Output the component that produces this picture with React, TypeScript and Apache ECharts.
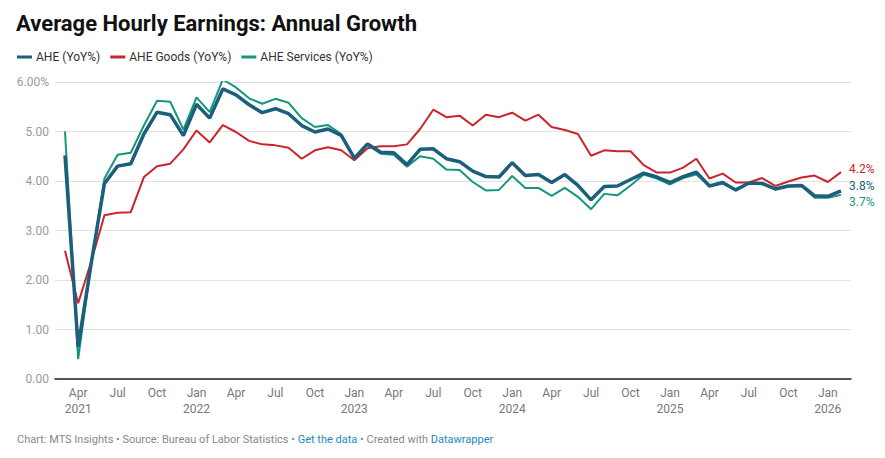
import React, { useEffect, useRef } from "react";
import * as echarts from "echarts";

// Months: index 0 = Mar 2021 ... index 59 = Feb 2026
const tickIndices = [1, 4, 7, 10, 13, 16, 19, 22, 25, 28, 31, 34, 37, 40, 43, 46, 49, 52, 55, 58];
const tickLabels = [
  "Apr\n2021", "Jul", "Oct", "Jan\n2022", "Apr", "Jul", "Oct", "Jan\n2023", "Apr", "Jul",
  "Oct", "Jan\n2024", "Apr", "Jul", "Oct", "Jan\n2025", "Apr", "Jul", "Oct", "Jan\n2026",
];

const ahe = [
  4.52, 0.65, 2.35, 3.95, 4.30, 4.35, 4.95, 5.39, 5.34, 4.92,
  5.55, 5.27, 5.86, 5.74, 5.54, 5.38, 5.46, 5.36, 5.12, 4.99,
  5.05, 4.92, 4.46, 4.75, 4.58, 4.57, 4.33, 4.64, 4.65, 4.45,
  4.39, 4.20, 4.09, 4.08, 4.37, 4.11, 4.13, 3.97, 4.13, 3.91,
  3.62, 3.89, 3.90, 4.03, 4.16, 4.08, 3.97, 4.09, 4.18, 3.90,
  3.97, 3.82, 3.96, 3.95, 3.84, 3.90, 3.91, 3.70, 3.69, 3.80,
];
const goods = [
  2.59, 1.53, 2.38, 3.31, 3.36, 3.37, 4.08, 4.30, 4.35, 4.64,
  5.02, 4.78, 5.13, 4.99, 4.81, 4.74, 4.72, 4.67, 4.45, 4.62,
  4.68, 4.62, 4.42, 4.66, 4.70, 4.70, 4.74, 5.05, 5.44, 5.29,
  5.32, 5.12, 5.34, 5.29, 5.38, 5.22, 5.34, 5.09, 5.03, 4.95,
  4.51, 4.62, 4.60, 4.60, 4.32, 4.17, 4.17, 4.27, 4.45, 4.05,
  4.15, 3.97, 3.97, 4.06, 3.90, 3.99, 4.07, 4.11, 3.98, 4.18,
];
const services = [
  5.00, 0.40, 2.35, 4.05, 4.53, 4.57, 5.12, 5.62, 5.60, 5.04,
  5.69, 5.39, 6.05, 5.89, 5.67, 5.56, 5.66, 5.58, 5.27, 5.09,
  5.13, 4.95, 4.46, 4.73, 4.55, 4.53, 4.29, 4.50, 4.45, 4.23,
  4.22, 3.98, 3.81, 3.82, 4.10, 3.86, 3.86, 3.70, 3.86, 3.68,
  3.43, 3.74, 3.71, 3.91, 4.13, 4.05, 3.93, 4.06, 4.13, 3.90,
  3.95, 3.81, 3.95, 3.94, 3.83, 3.89, 3.90, 3.66, 3.66, 3.72,
];

const C_AHE = "#1b5f7c";
const C_GOODS = "#c9252b";
const C_SERV = "#16977b";
const FONT = "Roboto";

const toPairs = (arr: number[]) => arr.map((v, i) => [i, v]);

export default function App() {
  const ref = useRef<HTMLDivElement>(null);
  useEffect(() => {
    if (!ref.current) return;
    const chart = echarts.init(ref.current, null, { renderer: "svg" });
    const endLabel = (color: string, dy: number) => ({
      show: true,
      color,
      fontFamily: FONT,
      fontSize: 12,
      distance: 8,
      offset: [0, dy],
      formatter: (p: any) => p.value[1].toFixed(1) + "%",
    });
    chart.setOption({
      animation: false,
      textStyle: { fontFamily: FONT },
      title: {
        text: "Average Hourly Earnings: Annual Growth",
        left: 16,
        top: 12,
        padding: 0,
        textStyle: { fontFamily: FONT, fontSize: 22, fontWeight: "bold", color: "#111" },
      },
      legend: {
        left: 17,
        top: 51,
        padding: 0,
        itemWidth: 15,
        itemHeight: 3,
        itemGap: 10,
        icon: "rect",
        textStyle: { fontFamily: FONT, fontSize: 12, color: "#333", padding: [0, 0, 0, -1] },
        data: ["AHE (YoY%)", "AHE Goods (YoY%)", "AHE Services (YoY%)"],
      },
      grid: { left: 55, right: 34, top: 82, bottom: 79, containLabel: false },
      xAxis: {
        type: "value",
        min: -0.76,
        max: 59.76,
        splitLine: { show: false },
        axisTick: { show: false },
        axisLine: { show: true, onZero: true, lineStyle: { color: "#222", width: 1.5 } },
        axisLabel: {
          customValues: tickIndices,
          formatter: (v: number) => tickLabels[tickIndices.indexOf(Math.round(v))] ?? "",
          color: "#777",
          fontFamily: FONT,
          fontSize: 12,
          lineHeight: 16,
          margin: 6,
        },
      },
      yAxis: {
        type: "value",
        min: 0,
        max: 6,
        interval: 1,
        axisLine: { show: false },
        axisTick: { show: false },
        splitLine: { lineStyle: { color: "#e2e2e2", width: 1 } },
        axisLabel: {
          formatter: (v: number) => (v === 6 ? "6.00%" : v.toFixed(2)),
          color: "#9a9a9a",
          fontFamily: FONT,
          fontSize: 12,
          margin: 6,
        },
      },
      graphic: [
        {
          type: "text",
          left: 17,
          top: 434,
          style: {
            text: "{g|Chart: MTS Insights • Source: Bureau of Labor Statistics • }{b|Get the data}{g| • Created with }{b|Datawrapper}",
            rich: {
              g: { fill: "#888", fontFamily: FONT, fontSize: 11 },
              b: { fill: "#1a8ac6", fontFamily: FONT, fontSize: 11 },
            },
          },
        },
      ],
      series: [
        {
          name: "AHE Goods (YoY%)",
          type: "line",
          data: toPairs(goods),
          symbol: "none",
          lineStyle: { color: C_GOODS, width: 2 },
          itemStyle: { color: C_GOODS },
          endLabel: endLabel(C_GOODS, -3),
          z: 2,
        },
        {
          name: "AHE Services (YoY%)",
          type: "line",
          data: toPairs(services),
          symbol: "none",
          lineStyle: { color: C_SERV, width: 2 },
          itemStyle: { color: C_SERV },
          endLabel: endLabel(C_SERV, 7),
          z: 3,
        },
        {
          name: "AHE (YoY%)",
          type: "line",
          data: toPairs(ahe),
          symbol: "none",
          lineStyle: { color: C_AHE, width: 3.5 },
          itemStyle: { color: C_AHE },
          endLabel: endLabel(C_AHE, -5),
          z: 4,
        },
      ],
    });
    return () => chart.dispose();
  }, []);
  return <div ref={ref} style={{ width: 885, height: 458, margin: -8 }} />;
}
